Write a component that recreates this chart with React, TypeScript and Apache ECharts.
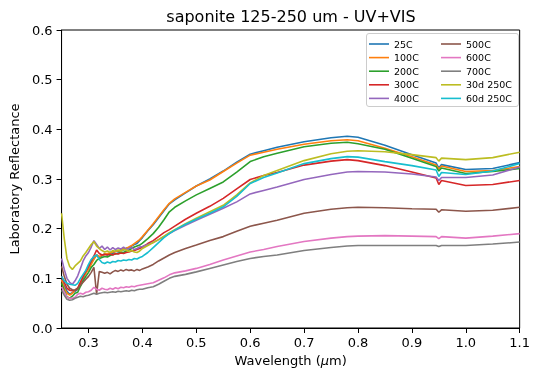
import React, { useEffect, useRef } from "react";
import * as echarts from "echarts";

const wavelengths = [
  0.25, 0.255, 0.26, 0.265, 0.27, 0.275, 0.28, 0.285, 0.29, 0.295, 0.3, 0.305, 0.31, 0.315, 0.32, 0.325,
  0.33, 0.335, 0.34, 0.345, 0.35, 0.355, 0.36, 0.365, 0.37, 0.375, 0.38, 0.385, 0.39, 0.395, 0.4,
  0.41, 0.42, 0.43, 0.44, 0.45, 0.46, 0.48, 0.5, 0.525, 0.55, 0.575, 0.6, 0.625, 0.65, 0.7, 0.75,
  0.78, 0.8, 0.85, 0.9, 0.945, 0.95, 0.955, 1.0, 1.05, 1.1,
];

const s25C = [
  0.098, 0.085, 0.074, 0.068, 0.071, 0.074, 0.078, 0.09, 0.1, 0.112, 0.12, 0.131, 0.14, 0.147, 0.143, 0.145,
  0.15, 0.147, 0.152, 0.15, 0.155, 0.153, 0.158, 0.157, 0.161, 0.16, 0.165, 0.168, 0.17, 0.176, 0.182,
  0.196, 0.208, 0.222, 0.236, 0.25, 0.258, 0.272, 0.286, 0.3, 0.316, 0.334, 0.35, 0.357, 0.364, 0.375, 0.383,
  0.386, 0.384, 0.368, 0.349, 0.332, 0.322, 0.329, 0.319, 0.321, 0.333,
];
const s100C = [
  0.097, 0.08, 0.07, 0.066, 0.07, 0.076, 0.08, 0.092, 0.102, 0.11, 0.118, 0.128, 0.138, 0.147, 0.144, 0.146,
  0.149, 0.15, 0.151, 0.153, 0.154, 0.155, 0.157, 0.16, 0.16, 0.163, 0.166, 0.17, 0.174, 0.178, 0.184,
  0.197, 0.21, 0.224, 0.238, 0.251, 0.26, 0.273, 0.286, 0.298, 0.315, 0.332, 0.348, 0.354, 0.36, 0.37, 0.377,
  0.379, 0.377, 0.362, 0.345, 0.328, 0.32, 0.326, 0.315, 0.317, 0.325,
];
const s200C = [
  0.09, 0.075, 0.063, 0.06, 0.064, 0.07, 0.072, 0.084, 0.095, 0.104, 0.112, 0.122, 0.128, 0.136, 0.14, 0.142,
  0.144, 0.143, 0.146, 0.148, 0.149, 0.15, 0.153, 0.152, 0.155, 0.157, 0.16, 0.163, 0.165, 0.167, 0.171,
  0.18, 0.19, 0.203, 0.218, 0.234, 0.243, 0.256, 0.268, 0.281, 0.294, 0.314, 0.335, 0.345, 0.352, 0.365, 0.372,
  0.374, 0.371, 0.36, 0.342, 0.325, 0.316, 0.322, 0.311, 0.315, 0.321,
];
const s300C = [
  0.104, 0.092, 0.08, 0.076, 0.075, 0.076, 0.08, 0.092, 0.104, 0.114, 0.124, 0.135, 0.145, 0.157, 0.15, 0.147,
  0.148, 0.147, 0.149, 0.147, 0.15, 0.149, 0.151, 0.15, 0.152, 0.153, 0.155, 0.156, 0.158, 0.16, 0.163,
  0.17, 0.176, 0.184, 0.192, 0.198, 0.205, 0.219, 0.231, 0.245, 0.261, 0.28, 0.299, 0.307, 0.313, 0.328, 0.336,
  0.339, 0.337, 0.327, 0.314, 0.302, 0.289, 0.297, 0.287, 0.289, 0.297,
];
const s400C = [
  0.14, 0.118, 0.1, 0.092, 0.088, 0.095, 0.105, 0.12, 0.135, 0.145, 0.152, 0.163, 0.176, 0.168, 0.16, 0.165,
  0.158, 0.163, 0.157, 0.162, 0.158, 0.161, 0.159, 0.163, 0.158, 0.16, 0.162, 0.158, 0.16, 0.163, 0.164,
  0.168, 0.172, 0.178, 0.184, 0.19, 0.196, 0.207, 0.217, 0.229, 0.241, 0.254, 0.27, 0.277, 0.284, 0.299, 0.309,
  0.314, 0.315, 0.314, 0.31, 0.304, 0.297, 0.303, 0.303, 0.308, 0.324,
];
const s500C = [
  0.124, 0.104, 0.088, 0.08, 0.077, 0.076, 0.08, 0.086, 0.092, 0.098, 0.104, 0.112, 0.122, 0.068, 0.114, 0.112,
  0.11, 0.112, 0.109, 0.113, 0.116, 0.114, 0.117, 0.115, 0.118, 0.116, 0.117, 0.115, 0.118, 0.116, 0.119,
  0.123, 0.128, 0.135, 0.141, 0.147, 0.152, 0.16, 0.167, 0.176, 0.184, 0.195, 0.205, 0.211, 0.217, 0.231, 0.239,
  0.242, 0.243, 0.242, 0.24, 0.239, 0.233, 0.238, 0.235, 0.237, 0.243,
];
const s600C = [
  0.083, 0.072, 0.062, 0.06, 0.06, 0.062, 0.068, 0.07, 0.068, 0.072, 0.073, 0.076, 0.082, 0.078, 0.076, 0.08,
  0.078, 0.077, 0.08, 0.078, 0.081, 0.079, 0.082, 0.081, 0.083, 0.082, 0.084, 0.083, 0.085, 0.086, 0.087,
  0.089, 0.091, 0.096, 0.101, 0.107, 0.111, 0.115, 0.12, 0.128, 0.137, 0.145, 0.153, 0.158, 0.164, 0.174, 0.181,
  0.184, 0.185, 0.186, 0.185, 0.184, 0.18, 0.184, 0.181, 0.185, 0.19,
];
const s700C = [
  0.076, 0.066, 0.058, 0.056, 0.057, 0.06, 0.062, 0.064, 0.063, 0.065, 0.066, 0.068, 0.07, 0.068, 0.07, 0.071,
  0.072, 0.071, 0.072, 0.073, 0.072, 0.074, 0.073, 0.074, 0.075, 0.074, 0.076, 0.075, 0.077, 0.078, 0.078,
  0.081, 0.083, 0.088, 0.094, 0.1, 0.104, 0.108, 0.113, 0.12, 0.127, 0.134, 0.14, 0.144, 0.147, 0.156, 0.162,
  0.165, 0.166, 0.166, 0.166, 0.166, 0.164, 0.166, 0.166, 0.169, 0.173,
];
const s30d250C = [
  0.231, 0.18, 0.14, 0.124, 0.118, 0.125, 0.13, 0.135, 0.145, 0.152, 0.16, 0.168, 0.174, 0.165, 0.16, 0.156,
  0.153, 0.155, 0.152, 0.156, 0.154, 0.157, 0.155, 0.158, 0.157, 0.154, 0.156, 0.153, 0.152, 0.155, 0.16,
  0.166, 0.172, 0.178, 0.185, 0.192, 0.198, 0.21, 0.221, 0.234, 0.247, 0.268, 0.292, 0.307, 0.317, 0.337, 0.351,
  0.356, 0.357, 0.355, 0.349, 0.343, 0.336, 0.342, 0.339, 0.343, 0.354,
];
const s60d250C = [
  0.104, 0.095, 0.09, 0.088, 0.087, 0.086, 0.09, 0.1, 0.108, 0.116, 0.128, 0.138, 0.144, 0.147, 0.138, 0.132,
  0.13, 0.133, 0.131, 0.134, 0.133, 0.136, 0.135, 0.137, 0.136, 0.138, 0.137, 0.14, 0.139, 0.142, 0.144,
  0.152, 0.162, 0.172, 0.182, 0.19, 0.197, 0.209, 0.219, 0.231, 0.244, 0.265, 0.291, 0.303, 0.312, 0.331, 0.341,
  0.345, 0.344, 0.335, 0.327, 0.318, 0.305, 0.313, 0.309, 0.316, 0.331,
];

const seriesNames = ["25C", "100C", "200C", "300C", "400C", "500C", "600C", "700C", "30d 250C", "60d 250C"];
const seriesValues = [s25C, s100C, s200C, s300C, s400C, s500C, s600C, s700C, s30d250C, s60d250C];
const colors = ["#1f77b4", "#ff7f0e", "#2ca02c", "#d62728", "#9467bd", "#8c564b", "#e377c2", "#7f7f7f", "#bcbd22", "#17becf"];
const xTicks = [0.3, 0.4, 0.5, 0.6, 0.7, 0.8, 0.9, 1.0, 1.1];
const titleText = "saponite 125-250 um - UV+VIS";

const FONT = "DejaVu Sans";

export default function App() {
  const ref = useRef<HTMLDivElement>(null);
  useEffect(() => {
    if (!ref.current) return;
    const chart = echarts.init(ref.current, undefined, { renderer: "svg" });
    const legendCommon = {
      orient: "vertical" as const,
      top: 38.5,
      padding: 0,
      itemGap: 2.6,
      itemWidth: 20,
      itemHeight: 1.6,
      icon: "rect",
      z: 5,
      textStyle: { fontFamily: FONT, fontSize: 9.5, color: "#000", lineHeight: 11 },
    };
    chart.setOption({
      animation: false,
      color: colors,
      grid: { left: 60, right: 11, top: 30, bottom: 46, show: true, borderColor: "#000", borderWidth: 1 },
      graphic: [
        {
          type: "text",
          x: 291,
          y: 16,
          style: { text: titleText, font: `16px ${FONT}`, fill: "#000", align: "center", verticalAlign: "middle" },
        },
        {
          type: "rect",
          z: 3,
          shape: { x: 366.5, y: 33.5, width: 152, height: 73, r: 2.5 },
          style: { fill: "rgba(255,255,255,0.8)", stroke: "#cccccc", lineWidth: 1 },
        },
      ],
      legend: [
        { ...legendCommon, left: 369, data: seriesNames.slice(0, 5) },
        { ...legendCommon, left: 441, data: seriesNames.slice(5) },
      ],
      xAxis: {
        type: "value",
        min: 0.25,
        max: 1.1,
        name: "Wavelength ({i|μ}m)",
        nameLocation: "middle",
        nameGap: 26,
        nameTextStyle: {
          fontFamily: FONT,
          fontSize: 13,
          color: "#000",
          rich: { i: { fontFamily: FONT, fontSize: 13, fontStyle: "italic", color: "#000" } },
        },
        axisLine: { show: true, lineStyle: { color: "#000", width: 1 } },
        axisTick: { show: true, length: 5, lineStyle: { color: "#000" }, customValues: xTicks },
        axisLabel: {
          show: true,
          margin: 8,
          fontFamily: FONT,
          fontSize: 13,
          color: "#000",
          customValues: xTicks,
          formatter: (v: number) => v.toFixed(1),
        },
        splitLine: { show: false },
      },
      yAxis: {
        type: "value",
        min: 0,
        max: 0.6,
        interval: 0.1,
        name: "Laboratory Reflectance",
        nameLocation: "middle",
        nameGap: 36,
        nameTextStyle: { fontFamily: FONT, fontSize: 13, color: "#000" },
        axisLine: { show: true, lineStyle: { color: "#000", width: 1 } },
        axisTick: { show: true, length: 5, lineStyle: { color: "#000" } },
        axisLabel: { margin: 9, fontFamily: FONT, fontSize: 13, color: "#000", formatter: (v: number) => v.toFixed(1) },
        splitLine: { show: false },
      },
      series: seriesNames.map((name, k) => ({
        name,
        type: "line",
        showSymbol: false,
        symbol: "none",
        lineStyle: { width: 1.6, color: colors[k] },
        itemStyle: { color: colors[k] },
        data: wavelengths.map((w, i) => [w, seriesValues[k][i]]),
      })),
    });
    return () => chart.dispose();
  }, []);
  return <div ref={ref} style={{ position: "fixed", left: 0, top: 0, width: 533, height: 374 }} />;
}
